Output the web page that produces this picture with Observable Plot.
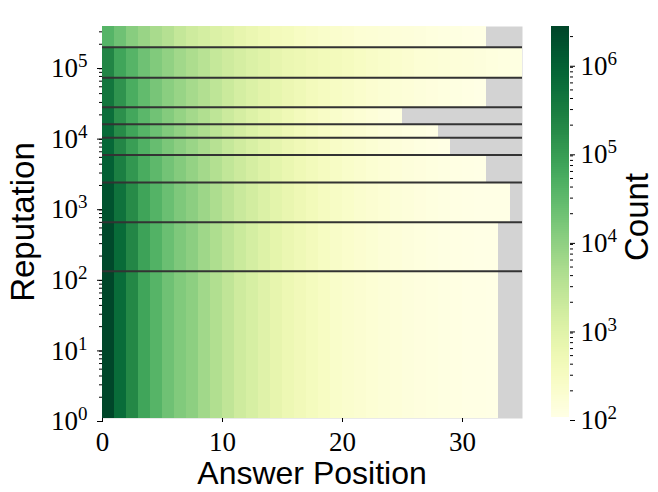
<!DOCTYPE html>
<html><head><meta charset="utf-8">
<script src="https://cdn.jsdelivr.net/npm/d3@7"></script>
<script src="https://cdn.jsdelivr.net/npm/@observablehq/plot@0.6"></script>
<style>
body{margin:0;background:#fff;}
#wrap{position:relative;width:658px;height:492px;}
#wrap svg{position:absolute;top:0;}
</style></head><body><div id="wrap"></div>
<script>
// Reputation bin edges (bottom to top)
const repEdges = [1, 122, 603, 2200, 5400, 9500, 14700, 25700, 67000, 182000, 357000];
// Counts per answer position, one array per reputation bin (bottom to top)
const rep1to122 = [2550000, 600000, 190000, 68000, 36000, 20000, 13000, 9700, 5900, 3900, 2600, 1700, 1300, 930, 690, 510, 420, 340, 280, 225, 200, 180, 165, 150, 140, 130, 124, 118, 112, 108, 104, 102, 100];
const rep122to603 = [2300000, 620000, 200000, 75000, 40000, 22000, 14000, 10000, 6300, 4200, 2800, 1900, 1400, 1000, 750, 560, 450, 360, 295, 240, 210, 185, 168, 152, 140, 130, 122, 116, 110, 106, 102, 100, 98];
const rep603to2200 = [1600000, 450000, 170000, 70000, 38000, 22000, 14000, 10000, 6500, 4300, 2900, 2000, 1500, 1100, 820, 620, 490, 400, 320, 265, 230, 200, 180, 162, 148, 136, 126, 118, 112, 107, 103, 100, 98, 96];
const rep2200to5400 = [950000, 270000, 110000, 52000, 30000, 18000, 12000, 8200, 5500, 3700, 2500, 1800, 1350, 1000, 760, 590, 470, 380, 310, 260, 225, 195, 175, 158, 145, 134, 125, 118, 112, 107, 103, 100];
const rep5400to9500 = [700000, 200000, 85000, 42000, 24000, 15000, 10000, 7000, 4800, 3300, 2200, 1600, 1200, 900, 700, 550, 440, 360, 300, 250, 215, 190, 168, 150, 138, 126, 116, 108, 102];
const rep9500to14700 = [650000, 170000, 70000, 36000, 21000, 13000, 8800, 6000, 4200, 2900, 2000, 1450, 1100, 830, 640, 500, 400, 330, 275, 235, 200, 178, 158, 142, 130, 120, 111, 104];
const rep14700to25700 = [540000, 140000, 62000, 32000, 19000, 12000, 8000, 5500, 3900, 2700, 1850, 1350, 1000, 760, 590, 460, 370, 305, 255, 215, 185, 162, 145, 130, 118];
const rep25700to67000 = [380000, 125000, 50000, 27000, 16000, 10500, 7400, 5200, 3800, 2700, 1900, 1400, 1100, 850, 680, 550, 450, 370, 320, 275, 240, 210, 188, 170, 156, 145, 135, 126, 118, 111, 105, 101];
const rep67000to182000 = [210000, 68000, 36000, 20000, 13000, 8800, 5900, 4400, 3200, 2200, 1700, 1350, 1100, 890, 690, 560, 510, 440, 400, 360, 325, 280, 250, 225, 205, 185, 166, 158, 150, 143, 136, 129, 123, 117, 111];
const rep182000to357000 = [36000, 20000, 11000, 7200, 4800, 3500, 2300, 1700, 1400, 1100, 890, 690, 560, 460, 370, 340, 280, 250, 225, 205, 185, 166, 158, 150, 143, 136, 129, 123, 117, 111, 105, 103];
const rows = [rep1to122, rep122to603, rep603to2200, rep2200to5400, rep5400to9500, rep9500to14700, rep14700to25700, rep25700to67000, rep67000to182000, rep182000to357000];

const xTicks = [0, 10, 20, 30];
const yMajorTicks = [1, 10, 100, 1000, 10000, 100000];
const yMinorTicks = [0,1,2,3,4,5].flatMap(k => [2,3,4,5,6,7,8,9].map(m => m * 10 ** k)).filter(v => v < 357000);
const cbMajorTicks = [1e2, 1e3, 1e4, 1e5, 1e6];
const colorMax = 2.6e6;
const cbMinorTicks = [2,3,4,5,6].flatMap(k => [2,3,4,5,6,7,8,9].map(m => m * 10 ** k)).filter(v => v < colorMax);

const cells = rows.flatMap((vals, r) => vals.map((v, c) => ({c, lo: repEdges[r], hi: repEdges[r + 1], v})));
const color = {type: "log", scheme: "YlGn", domain: [100, colorMax], clamp: true};
const supFmt = d => "10^" + Math.round(Math.log10(d));

const main = Plot.plot({
  width: 658, height: 492,
  marginLeft: 102, marginRight: 136, marginTop: 26, marginBottom: 74,
  style: {fontFamily: "Liberation Serif", fontSize: "27px", background: "transparent", color: "#000"},
  x: {domain: [0, 35]},
  y: {type: "log", domain: [1, 357000]},
  color,
  marks: [
    Plot.frame({fill: "#d3d3d3", stroke: null}),
    Plot.rect(cells, {x1: "c", x2: d => d.c + 1, y1: "lo", y2: "hi", fill: "v", inset: 0, shapeRendering: "crispEdges"}),
    Plot.ruleY(repEdges.slice(1, -1), {stroke: "#333", strokeWidth: 2}),
    Plot.axisX({ticks: xTicks, tickSize: 4, tickPadding: 9, label: null, tickFormat: d => String(d), fontSize: 27}),
    Plot.axisY({ticks: yMajorTicks, tickSize: 5, tickPadding: 10, label: null, tickFormat: supFmt, dy: 3, fontSize: 27}),
    Plot.axisY({ticks: yMinorTicks, tickSize: 3, text: null, label: null})
  ]
});

const span = Math.log10(colorMax) - 2;
const stops = d3.range(200).map(i => ({lo: 10 ** (2 + span * i / 200), hi: 10 ** (2 + span * (i + 1) / 200)}));
const cb = Plot.plot({
  width: 118, height: 492,
  marginLeft: 11, marginRight: 89, marginTop: 26, marginBottom: 75,
  style: {fontFamily: "Liberation Serif", fontSize: "27px", background: "transparent", color: "#000"},
  y: {type: "log", domain: [100, colorMax]},
  color,
  marks: [
    Plot.rect(stops, {y1: "lo", y2: "hi", fill: d => Math.sqrt(d.lo * d.hi), shapeRendering: "crispEdges"}),
    Plot.axisY({anchor: "right", ticks: cbMajorTicks, tickSize: 5, tickPadding: 6, label: null, tickFormat: supFmt, dy: 3, fontSize: 27}),
    Plot.axisY({anchor: "right", ticks: cbMinorTicks, tickSize: 3, text: null, label: null})
  ]
});
cb.style.left = "540px";

function sup(svg) {
  svg.querySelectorAll("text").forEach(t => {
    const m = /^10\^(\d+)$/.exec(t.textContent);
    if (m) {
      t.textContent = "10";
      const ts = document.createElementNS("http://www.w3.org/2000/svg", "tspan");
      ts.setAttribute("dy", "-10");
      ts.setAttribute("font-size", "19");
      ts.textContent = m[1];
      t.appendChild(ts);
    }
  });
}
sup(main); sup(cb);

const wrap = document.getElementById("wrap");
wrap.appendChild(main);
wrap.appendChild(cb);

const sans = "Liberation Sans";
d3.select(main).append("text").attr("x", 312).attr("y", 484).attr("text-anchor", "middle")
  .attr("font-family", sans).attr("font-size", 32).attr("fill", "#000").text("Answer Position");
d3.select(main).append("text").attr("transform", "translate(34,222) rotate(-90)").attr("text-anchor", "middle")
  .attr("font-family", sans).attr("font-size", 33).attr("fill", "#000").text("Reputation");
d3.select(cb).append("text").attr("transform", "translate(108,217) rotate(-90)").attr("text-anchor", "middle")
  .attr("font-family", sans).attr("font-size", 33).attr("fill", "#000").text("Count");
</script></body></html>
